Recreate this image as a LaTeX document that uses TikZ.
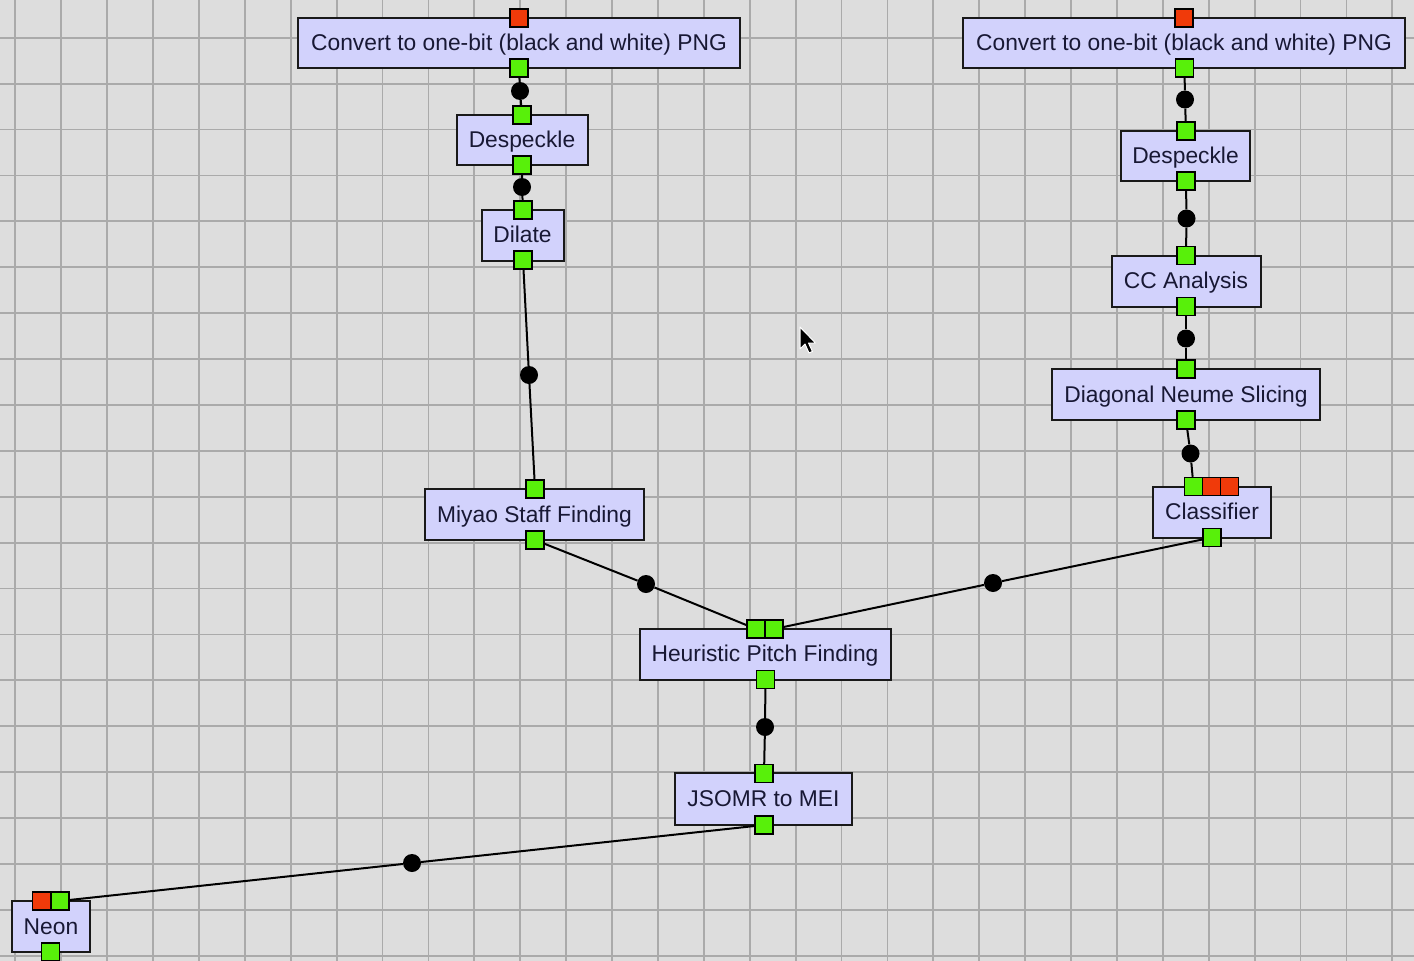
\documentclass[tikz,border=0pt]{standalone}
\usepackage{fontspec}
\setmainfont{Liberation Sans}
\definecolor{bg}{RGB}{221,221,221}
\definecolor{gridc}{RGB}{170,170,170}
\definecolor{boxfill}{RGB}{210,210,252}
\definecolor{txt}{RGB}{24,24,52}
\definecolor{portg}{RGB}{88,240,10}
\definecolor{portr}{RGB}{240,58,10}
\tikzset{
  stepbox/.style={draw=black!90, line width=2pt, fill=boxfill, text=txt,
    font=\fontsize{22.8}{27}\selectfont, inner sep=0pt, anchor=center,
    text height=15pt, text depth=0pt},
  gport/.style={draw=black, line width=1.4pt, fill=portg, minimum size=18pt, inner sep=0pt},
  rport/.style={gport, fill=portr},
  dot/.style={circle, fill=black, minimum size=18pt, inner sep=0pt},
  link/.style={line width=2pt, black},
  gridline/.style={gridc, line width=1.8pt},
}
\begin{document}
\begin{tikzpicture}[x=1pt,y=-1pt]
\fill[bg] (0,0) rectangle (1414,961);
\useasboundingbox (0,0) rectangle (1414,961);
\foreach \i in {0,...,30} \draw[gridline] ({15.3+45.9*\i},0) -- ++(0,961);
\foreach \i in {0,...,20} \draw[gridline] (0,{37.7+45.9*\i}) -- ++(1414,0);

% left column
\node[stepbox, minimum width=442pt, minimum height=50pt] (convL) at (519,43) {Convert to one-bit (black and white) PNG};
\node[rport] (pCLt) at (519,18) {};
\node[gport] (pCLb) at (519,68) {};
\node[dot] (dL1) at (520,91) {};
\node[stepbox, minimum width=131pt, minimum height=50pt] (despL) at (522,140) {Despeckle};
\node[gport] (pDLt) at (522,115) {};
\node[gport] (pDLb) at (522,165) {};
\node[dot] (dL2) at (522,187) {};
\node[stepbox, minimum width=82pt, minimum height=51pt] (dilate) at (522.5,235) {Dilate};
\node[gport] (pDIt) at (523,210) {};
\node[gport] (pDIb) at (523,260) {};
\node[dot] (dL3) at (529,375) {};
\node[stepbox, minimum width=219pt, minimum height=51pt] (miyao) at (534.5,514.5) {Miyao Staff Finding};
\node[gport] (pMt) at (535,489) {};
\node[gport] (pMb) at (535,540) {};
\node[dot] (dL4) at (646,584) {};
\node[stepbox, minimum width=251pt, minimum height=51pt] (hpf) at (765,654) {Heuristic Pitch Finding};
\node[gport] (pH1) at (756,629) {};
\node[gport] (pH2) at (774,629) {};
\node[gport] (pHb) at (765.5,679.5) {};
\node[dot] (dH) at (765,727) {};
\node[stepbox, minimum width=177pt, minimum height=52pt] (jsomr) at (763.5,799) {JSOMR to MEI};
\node[gport] (pJt) at (764,773.5) {};
\node[gport] (pJb) at (764,825) {};
\node[dot] (dN) at (412,863) {};
\node[stepbox, minimum width=78pt, minimum height=51pt] (neon) at (51,926.5) {Neon};
\node[rport] (pNr) at (41.5,901) {};
\node[gport] (pNg) at (60,901) {};
\node[gport] (pNb) at (50.5,952) {};

% right column
\node[stepbox, minimum width=442pt, minimum height=50pt] (convR) at (1184,43) {Convert to one-bit (black and white) PNG};
\node[rport] (pCRt) at (1184,18) {};
\node[gport] (pCRb) at (1184.5,68) {};
\node[dot] (dR1) at (1185,99.5) {};
\node[stepbox, minimum width=129pt, minimum height=50pt] (despR) at (1185.5,156) {Despeckle};
\node[gport] (pDRt) at (1186,131) {};
\node[gport] (pDRb) at (1186,181) {};
\node[dot] (dR2) at (1186.5,218.5) {};
\node[stepbox, minimum width=149pt, minimum height=51pt] (cc) at (1186,281) {CC Analysis};
\node[gport] (pCCt) at (1186,255.5) {};
\node[gport] (pCCb) at (1186,306.5) {};
\node[dot] (dR3) at (1186,338.5) {};
\node[stepbox, minimum width=268pt, minimum height=51pt] (dns) at (1186,394.5) {Diagonal Neume Slicing};
\node[gport] (pDNt) at (1186,369) {};
\node[gport] (pDNb) at (1186,420) {};
\node[dot] (dR4) at (1190.5,453.5) {};
\node[stepbox, minimum width=118pt, minimum height=51pt] (cls) at (1212,512) {Classifier};
\node[gport] (pCg) at (1193.5,486.5) {};
\node[rport] (pCr1) at (1211.5,486.5) {};
\node[rport] (pCr2) at (1229.5,486.5) {};
\node[gport] (pCb) at (1212,537.5) {};
\node[dot] (dC) at (993,583) {};

% connectors
\draw[link] (pCLb) -- (dL1) -- (pDLt);
\draw[link] (pDLb) -- (dL2) -- (pDIt);
\draw[link] (pDIb) -- (dL3) -- (pMt);
\draw[link] (pMb) -- (dL4) -- (pH1);
\draw[link] (pCb) -- (dC) -- (pH2);
\draw[link] (pHb) -- (dH) -- (pJt);
\draw[link] (pJb) -- (dN) -- (pNg);
\draw[link] (pCRb) -- (dR1) -- (pDRt);
\draw[link] (pDRb) -- (dR2) -- (pCCt);
\draw[link] (pCCb) -- (dR3) -- (pDNt);
\draw[link] (pDNb) -- (dR4) -- (pCg);

% mouse pointer
\draw[white, line width=1pt, fill=black, line join=round] (800,327) -- ++(0,22) -- ++(5,-5) -- ++(4,9) -- ++(3.5,-1.5) -- ++(-4,-8.5) -- ++(7,0) -- cycle;
\end{tikzpicture}
\end{document}
